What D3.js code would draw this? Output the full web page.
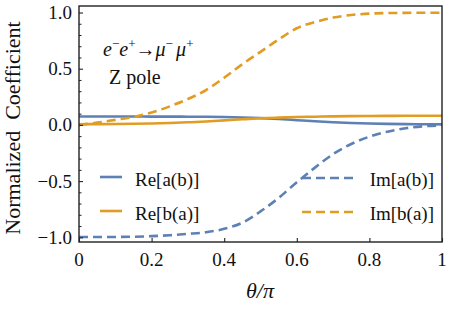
<!DOCTYPE html>
<html>
<head>
<meta charset="utf-8">
<script src="https://cdn.jsdelivr.net/npm/d3@7"></script>
</head>
<body style="margin:0">
<svg id="chart" width="449" height="310"></svg>
<script>
// theta / pi sample points
const theta = [0, 0.05, 0.1, 0.15, 0.2, 0.25, 0.3, 0.35, 0.4, 0.45, 0.5,
               0.55, 0.6, 0.65, 0.7, 0.75, 0.8, 0.85, 0.9, 0.95, 1];
const reAB = [0.075, 0.075, 0.075, 0.075, 0.074, 0.074, 0.073, 0.072, 0.070, 0.066, 0.060,
              0.052, 0.042, 0.032, 0.024, 0.017, 0.012, 0.009, 0.007, 0.006, 0.005];
const reBA = [0.006, 0.007, 0.008, 0.010, 0.013, 0.017, 0.023, 0.030, 0.040, 0.050, 0.059,
              0.065, 0.070, 0.073, 0.076, 0.078, 0.079, 0.080, 0.081, 0.081, 0.082];
const imAB = [-0.998, -0.998, -0.997, -0.995, -0.99, -0.982, -0.97, -0.955, -0.925, -0.87, -0.77,
              -0.65, -0.51, -0.38, -0.26, -0.17, -0.105, -0.06, -0.03, -0.012, -0.005];
const imBA = [0.0, 0.02, 0.045, 0.07, 0.11, 0.165, 0.23, 0.31, 0.42, 0.54, 0.65,
              0.76, 0.86, 0.915, 0.955, 0.978, 0.99, 0.995, 0.997, 0.998, 0.998];

const seriesNames = ["Re[a(b)]", "Re[b(a)]", "Im[a(b)]", "Im[b(a)]"];
const seriesValues = [reAB, reBA, imAB, imBA];
const seriesColors = ["#5e81b5", "#e19c24", "#5e81b5", "#e19c24"];
const seriesDashed = [false, false, true, true];

const xTicks = [0, 0.2, 0.4, 0.6, 0.8, 1];
const xTickLabels = ["0", "0.2", "0.4", "0.6", "0.8", "1"];
const yTicks = [-1, -0.5, 0, 0.5, 1];
const yTickLabels = ["\u22121.0", "\u22120.5", "0.0", "0.5", "1.0"];
const yMinor = [-0.9, -0.8, -0.7, -0.6, -0.4, -0.3, -0.2, -0.1, 0.1, 0.2, 0.3, 0.4, 0.6, 0.7, 0.8, 0.9];

const plotL = 79, plotR = 442, plotT = 6, plotB = 242;

const svg = d3.select("#chart");

// serif label helper
function label(sel, size) {
    return sel.attr("font-family", "Liberation Serif")
        .style("font-family", "'Liberation Serif'")
        .style("font-size", size + "px")
        .attr("fill", "#111");
}

const x = d3.scaleLinear().domain([0, 1]).range([plotL, plotR]);
const y = d3.scaleLinear().domain([-1.042, 1.058]).range([plotB, plotT]);

// curves
const line = d3.line()
    .x((d, i) => x(theta[i]))
    .y(d => y(d))
    .curve(d3.curveMonotoneX);

[0, 1, 3, 2].forEach(k => {
    svg.append("path")
        .attr("d", line(seriesValues[k]))
        .attr("fill", "none")
        .attr("stroke", seriesColors[k])
        .attr("stroke-width", 2.6)
        .attr("stroke-dasharray", seriesDashed[k] ? "9,5" : null);
});

// ticks
const xAxis = svg.append("g")
    .attr("transform", `translate(0,${plotB})`)
    .call(d3.axisBottom(x).tickValues(xTicks).tickSize(-4).tickFormat(""));
xAxis.select(".domain").remove();
xAxis.selectAll("line").attr("stroke", "#222").attr("stroke-width", 1.1);

const yAxis = svg.append("g")
    .attr("transform", `translate(${plotL},0)`)
    .call(d3.axisLeft(y).tickValues(yTicks).tickSize(-4).tickFormat(""));
yAxis.select(".domain").remove();
yAxis.selectAll("line").attr("stroke", "#222").attr("stroke-width", 1.1);

const yAxisMinor = svg.append("g")
    .attr("transform", `translate(${plotL},0)`)
    .call(d3.axisLeft(y).tickValues(yMinor).tickSize(-2.5).tickFormat(""));
yAxisMinor.select(".domain").remove();
yAxisMinor.selectAll("line").attr("stroke", "#222").attr("stroke-width", 1);

// tick labels
xTicks.forEach((t, i) => {
    label(svg.append("text"), 19)
        .attr("x", x(t)).attr("y", plotB + 24)
        .attr("text-anchor", "middle")
        .text(xTickLabels[i]);
});
yTicks.forEach((t, i) => {
    label(svg.append("text"), 19)
        .attr("x", plotL - 7).attr("y", y(t) + 6.5)
        .attr("text-anchor", "end")
        .text(yTickLabels[i]);
});

// frame
svg.append("rect")
    .attr("x", plotL).attr("y", plotT)
    .attr("width", plotR - plotL).attr("height", plotB - plotT)
    .attr("fill", "none")
    .attr("stroke", "#222")
    .attr("stroke-width", 1.4);

// axis titles
label(svg.append("text"), 22)
    .attr("transform", "translate(20,128) rotate(-90)")
    .attr("text-anchor", "middle")
    .text("Normalized\u00a0\u00a0Coefficient");

label(svg.append("text"), 22)
    .attr("x", 260).attr("y", 298)
    .attr("text-anchor", "middle")
    .style("font-style", "italic")
    .text("\u03b8/\u03c0");

// annotation
const ann = label(svg.append("text"), 20).attr("x", 103).attr("y", 56);
ann.append("tspan").style("font-style", "italic").text("e");
ann.append("tspan").attr("dy", -8).style("font-size", "13px").text("\u2212");
ann.append("tspan").attr("dy", 8).style("font-style", "italic").text("e");
ann.append("tspan").attr("dy", -8).style("font-size", "13px").text("+");
ann.append("tspan").attr("dy", 8).text("\u2192");
ann.append("tspan").style("font-style", "italic").text("\u03bc");
ann.append("tspan").attr("dy", -8).style("font-size", "13px").text("\u2212\u00a0");
ann.append("tspan").attr("dy", 8).style("font-style", "italic").text("\u03bc");
ann.append("tspan").attr("dy", -8).style("font-size", "13px").text("+");

label(svg.append("text"), 20).attr("x", 109).attr("y", 84).text("Z pole");

// legend
const legendPos = [
    {x1: 100, x2: 122, ly: 177, tx: 135, ty: 186, anchor: "start"},
    {x1: 100, x2: 122, ly: 211, tx: 135, ty: 220, anchor: "start"},
    {x1: 302, x2: 357, ly: 178, tx: 434, ty: 186, anchor: "end"},
    {x1: 302, x2: 357, ly: 212, tx: 434, ty: 220, anchor: "end"}
];
seriesNames.forEach((name, k) => {
    const p = legendPos[k];
    svg.append("line")
        .attr("x1", p.x1).attr("x2", p.x2)
        .attr("y1", p.ly).attr("y2", p.ly)
        .attr("stroke", seriesColors[k])
        .attr("stroke-width", 2.6)
        .attr("stroke-dasharray", seriesDashed[k] ? "9,5" : null);
    label(svg.append("text"), 19)
        .attr("x", p.tx).attr("y", p.ty)
        .attr("text-anchor", p.anchor)
        .text(name);
});
</script>
</body>
</html>
